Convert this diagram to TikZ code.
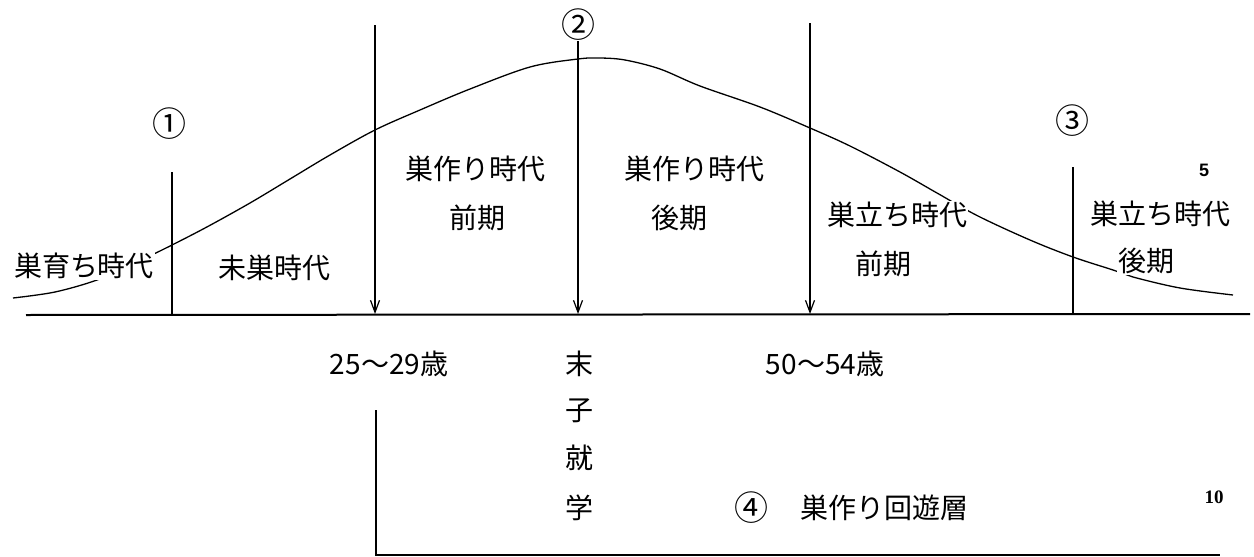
\documentclass[tikz,border=0pt]{standalone}
\usepackage{fontspec}
\newfontfamily\jfont{Noto Sans CJK JP}
\newfontfamily\numsans{Liberation Sans}
\newfontfamily\numserif{Liberation Serif}
\usetikzlibrary{arrows.meta}
\tikzset{
  lbl/.style={font=\jfont\fontsize{28}{34}\selectfont, inner sep=1pt, fill=white, text=black},
  circ/.style={font=\jfont\fontsize{34}{40}\selectfont, inner sep=0pt},
  curveline/.style={line width=1.3pt, line join=round},
  vline/.style={line width=1.4pt},
  downarrow/.style={line width=1.3pt, -{Straight Barb[length=12pt,width=9pt,line width=1.2pt]}},
  baseline/.style={line width=2pt},
}
\begin{document}
\begin{tikzpicture}[x=1pt,y=-1pt]
\useasboundingbox[fill=white] (0,0) rectangle (1254,557);

% curve
\draw[curveline] plot[smooth, tension=0.55] coordinates {
 (13,298) (55,292) (97,280) (130,265) (162,250) (205,228) (250,203) (290,179)
 (330,155) (375,130) (420,110) (470,89) (530,67) (578,59) (600,58) (625,60)
 (660,69) (700,86) (760,107) (810,128) (850,146) (900,172) (937,193) (978,216)
 (1030,240) (1073,257) (1113,270) (1133,277) (1180,288) (1233,295)};

% text labels (white fill hides the curve behind them)
\node[lbl] (sodachi) at (84,266) {巣育ち時代};
\node[lbl] (misou) at (274,268) {未巣時代};
\node[lbl] (tsukuriA) at (475,169) {巣作り時代};
\node[lbl] (zenkiA) at (477,218) {前期};
\node[lbl] (tsukuriB) at (694,169) {巣作り時代};
\node[lbl] (koukiA) at (679,218) {後期};
\node[lbl] (tachiA) at (897,215) {巣立ち時代};
\node[lbl] (zenkiB) at (883,264) {前期};
\node[lbl] (tachiB) at (1160,214) {巣立ち時代};
\node[lbl] (koukiB) at (1146,261) {後期};

% circled numbers
\node[circ] (c1) at (169,124) {①};
\node[circ] (c2) at (578,25) {②};
\node[circ] (c3) at (1072,121) {③};

% baseline
\coordinate (bl) at (26,315);
\coordinate (br) at (1250,314);
\draw[baseline] (bl) -- (br);

% vertical lines and arrows
\coordinate (v1t) at (172,172);
\coordinate (v1b) at (172,315);
\draw[vline] (v1t) -- (v1b);
\coordinate (v3t) at (1073,167);
\coordinate (v3b) at (1073,314);
\draw[vline] (v3t) -- (v3b);

\coordinate (a1t) at (375,25);
\coordinate (a1b) at (375,314);
\draw[downarrow] (a1t) -- (a1b);
\coordinate (a2t) at (578,41);
\coordinate (a2b) at (578,314);
\draw[downarrow] (a2t) -- (a2b);
\coordinate (a3t) at (810,23);
\coordinate (a3b) at (810,314);
\draw[downarrow] (a3t) -- (a3b);

% lower labels
\node[lbl] (age1) at (389,364) {25〜29歳};
\node[lbl] (age2) at (825,364) {50〜54歳};
\node[lbl] (k1) at (579,364) {末};
\node[lbl] (k2) at (579,411) {子};
\node[lbl] (k3) at (579,458) {就};
\node[lbl] (k4) at (579,508) {学};
\node[circ] (c4) at (751,508) {④};
\node[lbl] (kaiyu) at (884,508) {巣作り回遊層};

% line numbers
\node[font=\numsans\bfseries\fontsize{18}{20}\selectfont, inner sep=0pt] (n5) at (1204,170) {5};
\node[font=\numserif\bfseries\fontsize{19}{21}\selectfont, inner sep=0pt] (n10) at (1214,497) {10};

% bottom L-shape
\coordinate (lt) at (376,410);
\coordinate (lc) at (376,555);
\coordinate (lr) at (1220,555);
\draw[vline] (lt) -- (lc) -- (lr);
\end{tikzpicture}
\end{document}
